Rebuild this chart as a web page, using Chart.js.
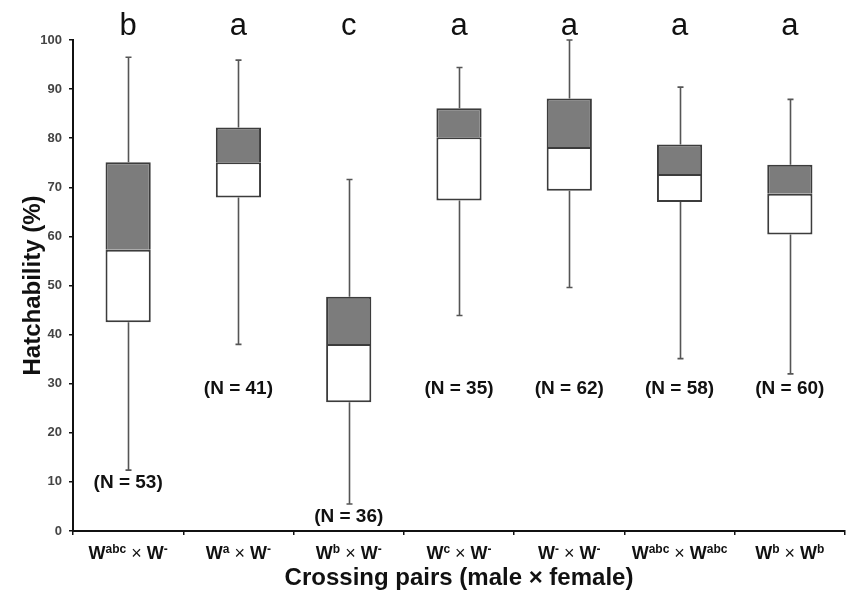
<!DOCTYPE html>
<html>
<head>
<meta charset="utf-8">
<script src="https://cdn.jsdelivr.net/npm/chart.js@4.4.1/dist/chart.umd.min.js"></script>
<style>
  html, body { margin: 0; padding: 0; background: #fff; }
  #wrap { width: 850px; height: 601px; }
</style>
</head>
<body>
<div id="wrap"><canvas id="chart"></canvas></div>
<script>
// Crossing pairs: superscripts of male and female genotype
const maleSup = ['abc', 'a', 'b', 'c', '-', 'abc', 'b'];
const femaleSup = ['-', '-', '-', '-', '-', 'abc', 'b'];
const categories = maleSup.map((m, i) => 'W' + m + ' × W' + femaleSup[i]);

// Box plot values (hatchability %)
const whiskerLow = [12.4, 38.0, 5.5, 43.9, 49.6, 35.1, 32.0];
const q1 = [42.5, 67.9, 26.2, 67.3, 69.3, 67.0, 60.4];
const median = [57.3, 75.1, 38.1, 80.2, 78.2, 72.7, 68.7];
const q3 = [75.1, 82.2, 47.7, 86.1, 88.1, 78.7, 74.6];
const whiskerHigh = [96.5, 95.9, 71.6, 94.4, 100, 90.4, 87.9];

const sampleN = [53, 41, 36, 35, 62, 58, 60];
const groupLetters = ['b', 'a', 'c', 'a', 'a', 'a', 'a'];

const FONT = '"Liberation Sans", Arial, Helvetica, sans-serif';

// Whiskers, significance letters, N labels and x labels with superscripts
const boxExtras = {
    id: 'boxExtras',
    beforeDatasetsDraw(chart) {
        const ctx = chart.ctx;
        const x = chart.scales.x, y = chart.scales.y;
        ctx.save();
        ctx.strokeStyle = '#555';
        ctx.lineWidth = 1.6;
        categories.forEach((c, i) => {
            const px = Math.round(x.getPixelForValue(i)) + 0.5;
            ctx.beginPath();
            ctx.moveTo(px, y.getPixelForValue(whiskerLow[i]));
            ctx.lineTo(px, y.getPixelForValue(q1[i]));
            ctx.moveTo(px, y.getPixelForValue(q3[i]));
            ctx.lineTo(px, y.getPixelForValue(whiskerHigh[i]));
            // caps
            [whiskerLow[i], whiskerHigh[i]].forEach(v => {
                const py = y.getPixelForValue(v);
                ctx.moveTo(px - 3, py);
                ctx.lineTo(px + 3, py);
            });
            ctx.stroke();
        });
        ctx.restore();
    },
    afterDraw(chart) {
        const ctx = chart.ctx;
        const x = chart.scales.x, y = chart.scales.y;
        ctx.save();
        ctx.fillStyle = '#111';
        ctx.textAlign = 'center';

        // group letters above the plot
        ctx.font = '31px ' + FONT;
        ctx.textBaseline = 'alphabetic';
        groupLetters.forEach((l, i) => {
            ctx.fillText(l, x.getPixelForValue(i), 35);
        });

        // sample sizes under the whiskers
        ctx.font = 'bold 19px ' + FONT;
        ctx.textBaseline = 'middle';
        sampleN.forEach((n, i) => {
            const v = Math.min(whiskerLow[i] - 2.6, 29);
            ctx.fillText('(N = ' + n + ')', x.getPixelForValue(i), y.getPixelForValue(v));
        });

        // x tick labels with superscripts
        ctx.textAlign = 'left';
        ctx.textBaseline = 'alphabetic';
        const big = 'bold 18px ' + FONT;
        const small = 'bold 12px ' + FONT;
        const times = '18px ' + FONT;
        categories.forEach((c, i) => {
            const parts = [
                { t: 'W', f: big, dy: 0 },
                { t: maleSup[i], f: small, dy: -6 },
                { t: ' × ', f: times, dy: 0 },
                { t: 'W', f: big, dy: 0 },
                { t: femaleSup[i], f: small, dy: -6 }
            ];
            let w = 0;
            parts.forEach(p => { ctx.font = p.f; p.w = ctx.measureText(p.t).width; w += p.w; });
            let px = x.getPixelForValue(i) - w / 2;
            const base = 559;
            parts.forEach(p => {
                ctx.font = p.f;
                ctx.fillText(p.t, px, base + p.dy);
                px += p.w;
            });
        });
        ctx.restore();
    }
};

const ctx = document.getElementById('chart').getContext('2d');
new Chart(ctx, {
    type: 'bar',
    data: {
        labels: categories,
        datasets: [
            {
                label: 'Q1 - median',
                data: q1.map((v, i) => [v, median[i]]),
                backgroundColor: '#ffffff',
                borderColor: '#3c3c3c',
                borderWidth: 2,
                borderSkipped: false
            },
            {
                label: 'median - Q3',
                data: median.map((v, i) => [v, q3[i]]),
                backgroundColor: '#7c7c7c',
                borderColor: '#3c3c3c',
                borderWidth: { top: 2, left: 2, right: 2, bottom: 0 },
                borderSkipped: false
            }
        ]
    },
    options: {
        responsive: true,
        maintainAspectRatio: false,
        animation: false,
        devicePixelRatio: 1,
        grouped: false,
        barPercentage: 0.41,
        categoryPercentage: 1,
        layout: { padding: { top: 40, right: 5, left: 0, bottom: 0 } },
        plugins: {
            legend: { display: false },
            tooltip: { enabled: false }
        },
        scales: {
            x: {
                grid: { drawOnChartArea: false, drawTicks: true, tickLength: 4, color: '#111', lineWidth: 1.5, offset: true },
                border: { display: true, color: '#111', width: 2 },
                ticks: { display: false },
                title: {
                    display: true,
                    text: 'Crossing pairs (male × female)',
                    color: '#111',
                    font: { family: FONT, size: 24, weight: 'bold' },
                    padding: { top: 0, bottom: 8 }
                },
                afterFit(scale) { scale.height = 70; }
            },
            y: {
                min: 0,
                max: 100,
                ticks: {
                    stepSize: 10,
                    padding: 7,
                    color: '#444',
                    font: { family: FONT, size: 13, weight: 'bold' }
                },
                grid: { drawOnChartArea: false, drawTicks: true, tickLength: 4, color: '#111', lineWidth: 1.5 },
                border: { display: true, color: '#111', width: 2 },
                title: {
                    display: true,
                    text: 'Hatchability (%)',
                    color: '#111',
                    font: { family: FONT, size: 24, weight: 'bold' },
                    padding: { top: 19, bottom: 0 }
                },
                afterFit(scale) { scale.width = 73; }
            }
        }
    },
    plugins: [boxExtras]
});
</script>
</body>
</html>
